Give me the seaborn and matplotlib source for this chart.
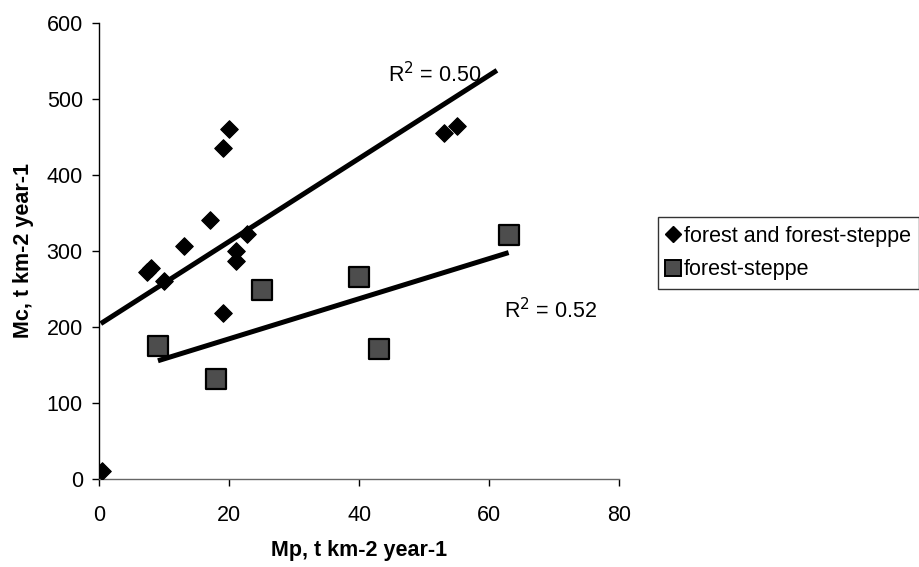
import numpy as np
import pandas as pd
import matplotlib
matplotlib.use("Agg")
import matplotlib.pyplot as plt
import seaborn as sns

# ---- data ----
forest_mp = [0.4, 7.3, 8.0, 10.0, 13.0, 17.0, 19.0, 20.0, 21.0, 21.0, 22.7, 19.0, 53.0, 55.0]
forest_mc = [10, 272, 278, 261, 306, 341, 435, 461, 300, 287, 322, 219, 455, 465]
steppe_mp = [9.0, 18.0, 25.0, 40.0, 43.0, 63.0]
steppe_mc = [175, 131, 249, 266, 171, 321]
forest_trend_range = [0.2, 61.2]
steppe_trend_range = [9.0, 63.0]
series_names = ["forest and forest-steppe", "forest-steppe"]
x_ticks = [0, 20, 40, 60, 80]
y_ticks = [0, 100, 200, 300, 400, 500, 600]

sns.set_theme(style="white")
plt.rcParams["font.family"] = ["Liberation Sans", "DejaVu Sans"]
plt.rcParams.update({"text.color": "black", "axes.labelcolor": "black",
                     "xtick.color": "black", "ytick.color": "black"})
FS = 15.5

fig = plt.figure(figsize=(9.2, 5.67), dpi=100)
ax = fig.add_axes([99.5 / 920, 1 - 479 / 567, (619 - 99.5) / 920, (479 - 23) / 567])

df_f = pd.DataFrame({"Mp": forest_mp, "Mc": forest_mc})
df_s = pd.DataFrame({"Mp": steppe_mp, "Mc": steppe_mc})


def fit(x, y):
    x = np.asarray(x, float)
    y = np.asarray(y, float)
    b, a = np.polyfit(x, y, 1)
    pred = a + b * x
    r2 = 1 - np.sum((y - pred) ** 2) / np.sum((y - y.mean()) ** 2)
    return a, b, r2


fa, fb, fr2 = fit(forest_mp, forest_mc)
sa, sb, sr2 = fit(steppe_mp, steppe_mc)

tf = np.array(forest_trend_range)
ts = np.array(steppe_trend_range)
ax.plot(tf, fa + fb * tf, color="black", lw=3.6, solid_capstyle="butt", zorder=2)
ax.plot(ts, sa + sb * ts, color="black", lw=3.6, solid_capstyle="butt", zorder=2)

sns.scatterplot(data=df_f, x="Mp", y="Mc", marker="D", s=80, color="black",
                edgecolor="black", linewidth=0.8, ax=ax, zorder=3)
sns.scatterplot(data=df_s, x="Mp", y="Mc", marker="s", s=205, color="#4d4d4d",
                edgecolor="black", linewidth=1.6, ax=ax, zorder=3)

ax.text(44.4, 532, f"R$^2$ = {fr2:.2f}", fontsize=FS, va="center", ha="left",
        color="black")
ax.text(62.3, 222, f"R$^2$ = {sr2:.2f}", fontsize=FS, va="center", ha="left",
        color="black")

ax.set_xlim(0, 80)
ax.set_ylim(0, 600)
ax.set_xticks(x_ticks)
ax.set_yticks(y_ticks)
ax.tick_params(axis="both", direction="out", length=5, width=1, labelsize=FS,
               color="black", labelcolor="black", left=True, bottom=True)
ax.tick_params(axis="x", pad=14)
ax.tick_params(axis="y", pad=7)
for side in ["top", "right"]:
    ax.spines[side].set_visible(False)
ax.spines["left"].set_color("black")
ax.spines["left"].set_linewidth(1)
ax.spines["bottom"].set_color("#666666")
ax.spines["bottom"].set_linewidth(1)
ax.set_xlabel("Mp, t km-2 year-1", fontsize=FS, fontweight="bold", labelpad=10,
              color="black")
ax.set_ylabel("Mc, t km-2 year-1", fontsize=FS, fontweight="bold", labelpad=9,
              color="black")

h1 = plt.Line2D([], [], marker="D", ls="", color="black", markersize=8)
h2 = plt.Line2D([], [], marker="s", ls="", markerfacecolor="#4d4d4d",
                markeredgecolor="black", markeredgewidth=1.4, markersize=11)
leg = fig.legend([h1, h2], series_names, loc="center left",
                 bbox_to_anchor=(658 / 920, 1 - 253 / 567), fontsize=FS,
                 frameon=True, fancybox=False, shadow=False, handlelength=0.6,
                 handletextpad=0.2, borderpad=0.4, labelspacing=0.6,
                 borderaxespad=0, labelcolor="black")
leg.get_frame().set_edgecolor("black")
leg.get_frame().set_linewidth(1)

fig.savefig("out.png", dpi=100)
